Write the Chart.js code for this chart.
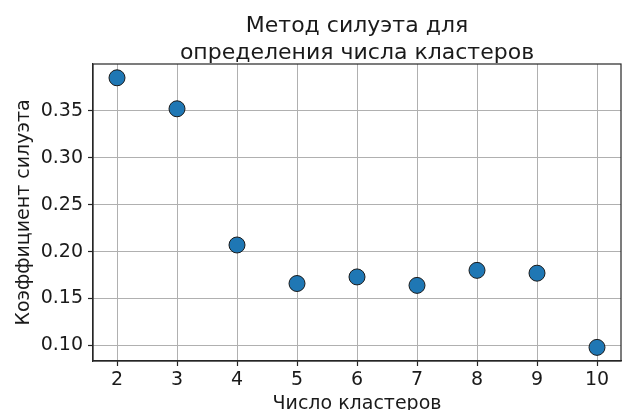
<!DOCTYPE html>
<html>
<head>
<meta charset="utf-8">
<script src="https://cdn.jsdelivr.net/npm/chart.js@4.4.1/dist/chart.umd.min.js"></script>
<style>
  html, body { margin: 0; padding: 0; background: #ffffff; overflow: hidden; }
  #wrap { width: 622px; height: 410px; overflow: hidden; }
  canvas { display: block; }
</style>
</head>
<body>
<div id="wrap"><canvas id="chart" width="630" height="420"></canvas></div>
<script>
// Silhouette score for each number of clusters
const clusterCounts = [2, 3, 4, 5, 6, 7, 8, 9, 10];
const silhouetteScores = [0.385, 0.352, 0.207, 0.166, 0.173, 0.164, 0.180, 0.177, 0.098];

const xTickValues = [2, 3, 4, 5, 6, 7, 8, 9, 10];
const yTickValues = [0.10, 0.15, 0.20, 0.25, 0.30, 0.35];

const titleLines = ['Метод силуэта для', 'определения числа кластеров'];
const xAxisLabel = 'Число кластеров';
const yAxisLabel = 'Коэффициент силуэта';

const FONT = '"DejaVu Sans", sans-serif';
const TEXT_COLOR = '#1a1a1a';
const SPINE_COLOR = '#262626';
const GRID_COLOR = '#b0b0b0';

const points = clusterCounts.map((k, i) => ({ x: k, y: silhouetteScores[i] }));

// Frame around the plot area plus the title and axis labels
const decorations = {
  id: 'decorations',
  afterDraw(chart) {
    const { ctx, chartArea } = chart;
    const cx = (chartArea.left + chartArea.right) / 2;
    const cy = (chartArea.top + chartArea.bottom) / 2;
    ctx.save();
    ctx.strokeStyle = SPINE_COLOR;
    ctx.lineWidth = 1.2;
    ctx.strokeRect(chartArea.left, chartArea.top,
                   chartArea.right - chartArea.left, chartArea.bottom - chartArea.top);

    ctx.fillStyle = TEXT_COLOR;
    ctx.textAlign = 'center';
    ctx.textBaseline = 'alphabetic';
    ctx.font = '22px ' + FONT;
    ctx.fillText(titleLines[0], cx, 32);
    ctx.fillText(titleLines[1], cx, 59);

    ctx.font = '19px ' + FONT;
    ctx.fillText(xAxisLabel, cx, 409);

    ctx.translate(28.5, cy);
    ctx.rotate(-Math.PI / 2);
    ctx.fillText(yAxisLabel, 0, 0);
    ctx.restore();
  }
};

new Chart(document.getElementById('chart'), {
  type: 'scatter',
  data: {
    datasets: [{
      data: points,
      backgroundColor: '#1f77b4',
      borderColor: '#1a1a1a',
      borderWidth: 1,
      pointRadius: 8,
      pointHoverRadius: 8
    }]
  },
  options: {
    responsive: false,
    animation: false,
    devicePixelRatio: 1,
    layout: { padding: { top: 64, left: 0, right: 4, bottom: 0 } },
    plugins: {
      legend: { display: false },
      title: { display: false },
      tooltip: { enabled: false }
    },
    scales: {
      x: {
        type: 'linear',
        min: 1.6,
        max: 10.4,
        z: 1,
        afterFit(scale) { scale.height = 59; },
        afterBuildTicks(scale) { scale.ticks = xTickValues.map(v => ({ value: v })); },
        grid: { color: GRID_COLOR, lineWidth: 1, drawTicks: true, tickLength: 5, tickColor: SPINE_COLOR, tickWidth: 1.2 },
        border: { display: true, color: SPINE_COLOR, width: 1.2 },
        ticks: {
          padding: 3,
          color: TEXT_COLOR,
          font: { family: FONT, size: 19 },
          maxRotation: 0,
          callback: v => String(v)
        }
      },
      y: {
        type: 'linear',
        min: 0.0835,
        max: 0.3997,
        z: 1,
        afterFit(scale) { scale.width = 93; },
        afterBuildTicks(scale) { scale.ticks = yTickValues.map(v => ({ value: v })); },
        grid: { color: GRID_COLOR, lineWidth: 1, drawTicks: true, tickLength: 5, tickColor: SPINE_COLOR, tickWidth: 1.2 },
        border: { display: true, color: SPINE_COLOR, width: 1.2 },
        ticks: {
          padding: 5,
          color: TEXT_COLOR,
          font: { family: FONT, size: 19 },
          callback: v => Number(v).toFixed(2)
        }
      }
    }
  },
  plugins: [decorations]
});
</script>
</body>
</html>
